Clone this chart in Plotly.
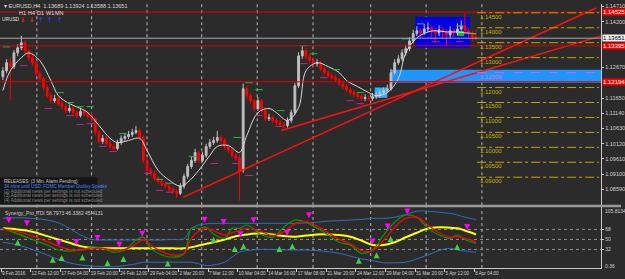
import plotly.graph_objects as go

# ---------------- price data (8h bars) ----------------
bar_open = [1.1236,1.1256,1.1283,1.1270,1.1316,1.1333,1.1350,1.1323,1.1300,1.1283,
            1.1246,1.1230,1.1200,1.1173,1.1156,1.1163,1.1146,1.1136,1.1123,1.1130,
            1.1116,1.1106,1.1120,1.1113,1.1103,1.1096,1.1050,1.1020,1.1030,1.1013,
            1.1003,1.0996,1.1016,1.1030,1.1036,1.1043,1.1050,1.1056,1.1033,1.0956,
            1.0923,1.0913,1.0896,1.0886,1.0876,1.0870,1.0860,1.0853,1.0846,1.0870,
            1.0903,1.0936,1.0956,1.0983,1.0956,1.0973,1.1003,1.1016,1.1023,1.1033,
            1.1023,1.1003,1.0990,1.0973,1.0963,1.0923,1.1196,1.1173,1.1156,1.1130,
            1.1156,1.1123,1.1096,1.1100,1.1090,1.1083,1.1076,1.1073,1.1090,1.1116,
            1.1206,1.1306,1.1323,1.1303,1.1290,1.1280,1.1283,1.1263,1.1250,1.1240,
            1.1233,1.1226,1.1213,1.1203,1.1193,1.1183,1.1176,1.1170,1.1163,1.1166,
            1.1163,1.1170,1.1173,1.1183,1.1190,1.1196,1.1250,1.1283,1.1296,1.1316,
            1.1330,1.1356,1.1380,1.1390,1.1383,1.1396,1.1400,1.1390,1.1383,1.1393,
            1.1386,1.1376,1.1390,1.1383,1.1396,1.1406,1.1390,1.1380,1.1369]
bar_close = [1.1256,1.1283,1.1270,1.1316,1.1333,1.1350,1.1323,1.1300,1.1283,1.1246,
             1.1230,1.1200,1.1173,1.1156,1.1163,1.1146,1.1136,1.1123,1.1130,1.1116,
             1.1106,1.1120,1.1113,1.1103,1.1096,1.1050,1.1020,1.1030,1.1013,1.1003,
             1.0996,1.1016,1.1030,1.1036,1.1043,1.1050,1.1056,1.1033,1.0956,1.0923,
             1.0913,1.0896,1.0886,1.0876,1.0870,1.0860,1.0853,1.0846,1.0870,1.0903,
             1.0936,1.0956,1.0983,1.0956,1.0973,1.1003,1.1016,1.1023,1.1033,1.1023,
             1.1003,1.0990,1.0973,1.0963,1.0923,1.1196,1.1173,1.1156,1.1130,1.1156,
             1.1123,1.1096,1.1100,1.1090,1.1083,1.1076,1.1073,1.1090,1.1116,1.1206,
             1.1306,1.1323,1.1303,1.1290,1.1280,1.1283,1.1263,1.1250,1.1240,1.1233,
             1.1226,1.1213,1.1203,1.1193,1.1183,1.1176,1.1170,1.1163,1.1166,1.1163,
             1.1170,1.1173,1.1183,1.1190,1.1196,1.1250,1.1283,1.1296,1.1316,1.1330,
             1.1356,1.1380,1.1390,1.1383,1.1396,1.1400,1.1390,1.1383,1.1393,1.1386,
             1.1376,1.1390,1.1383,1.1396,1.1406,1.1390,1.1380,1.1369,1.13651]
bar_high = [1.1268,1.1295,1.1300,1.1325,1.1345,1.1373,1.1358,1.1330,1.1312,1.1290,
            1.1258,1.1236,1.1210,1.1182,1.1176,1.1170,1.1156,1.1146,1.1142,1.1138,
            1.1125,1.1133,1.1130,1.1120,1.1118,1.1100,1.1058,1.1042,1.1038,1.1022,
            1.1012,1.1026,1.1040,1.1048,1.1055,1.1062,1.1072,1.1063,1.1040,1.0965,
            1.0932,1.0922,1.0905,1.0895,1.0886,1.0878,1.0868,1.0860,1.0880,1.0912,
            1.0945,1.0968,1.0995,1.0990,1.0985,1.1012,1.1028,1.1035,1.1055,1.1040,
            1.1030,1.1010,1.0998,1.0980,1.0975,1.1213,1.1205,1.1182,1.1162,1.1168,
            1.1162,1.1130,1.1112,1.1108,1.1098,1.1092,1.1085,1.1100,1.1126,1.1215,
            1.1318,1.1340,1.1332,1.1312,1.1298,1.1295,1.1290,1.1270,1.1258,1.1250,
            1.1243,1.1232,1.1222,1.1212,1.1200,1.1192,1.1185,1.1178,1.1178,1.1175,
            1.1182,1.1185,1.1193,1.1200,1.1210,1.1262,1.1295,1.1308,1.1328,1.1343,
            1.1368,1.1393,1.1405,1.1398,1.1412,1.1418,1.1405,1.1400,1.1408,1.1402,
            1.1395,1.1405,1.1398,1.1415,1.1425,1.1450,1.1400,1.1390,1.13924]
bar_low = [1.1225,1.1248,1.1160,1.1262,1.1305,1.1325,1.1315,1.1290,1.1272,1.1238,
           1.1220,1.1190,1.1165,1.1146,1.1148,1.1138,1.1126,1.1115,1.1116,1.1108,
           1.1098,1.1100,1.1105,1.1095,1.1088,1.1040,1.1012,1.1012,1.1005,1.0995,
           1.0986,1.0990,1.1008,1.1022,1.1028,1.1035,1.1044,1.1025,1.0948,1.0915,
           1.0905,1.0888,1.0878,1.0868,1.0862,1.0852,1.0845,1.0830,1.0840,1.0862,
           1.0895,1.0928,1.0948,1.0948,1.0950,1.0965,1.0995,1.1008,1.1015,1.1012,
           1.0995,1.0982,1.0965,1.0955,1.0822,1.0915,1.1160,1.1145,1.1120,1.1122,
           1.1115,1.1088,1.1088,1.1080,1.1075,1.1068,1.1063,1.1066,1.1082,1.1108,
           1.1198,1.1296,1.1295,1.1280,1.1270,1.1270,1.1255,1.1242,1.1232,1.1225,
           1.1218,1.1205,1.1195,1.1185,1.1175,1.1168,1.1160,1.1155,1.1155,1.1155,
           1.1156,1.1162,1.1165,1.1175,1.1182,1.1190,1.1243,1.1276,1.1288,1.1306,
           1.1322,1.1348,1.1372,1.1368,1.1376,1.1385,1.1362,1.1350,1.1372,1.1365,
           1.1335,1.1365,1.1368,1.1375,1.1388,1.1378,1.1368,1.1355,1.13588]
bar_idx = list(range(len(bar_close)))

# moving average (white line)
ma_i = [0,2,5,7,10,13,15,18,21,23,26,29,31,34,37,39,42,45,48,50,53,56,58,61,64,
        66,69,72,74,77,80,82,85,88,91,93,96,99,101,104,107,109,112,115,117,120,123,125,128]
ma_p = [1.1190,1.1256,1.1300,1.1316,1.1290,1.1223,1.1173,1.1146,1.1130,1.1116,
        1.1073,1.1030,1.1016,1.1023,1.1030,1.0990,1.0923,1.0890,1.0870,1.0883,
        1.0923,1.0973,1.1003,1.1006,1.0983,1.1040,1.1116,1.1130,1.1116,1.1090,
        1.1133,1.1256,1.1283,1.1270,1.1250,1.1223,1.1203,1.1183,1.1173,1.1183,
        1.1230,1.1316,1.1366,1.1386,1.1390,1.1386,1.1386,1.1383,1.1380]

# small green (resistance) and magenta (support) marks
grn_i = [0,14.5,17.2,19.9,22.6,31.5,41.4,44.1,50.3,62.4,65.6,68.3,74.2,80.4,83.1,89.2,95.7,108,112,122.6,126]
grn_p = [1.1336,1.1183,1.1150,1.1136,1.1136,1.1046,1.0893,1.0880,1.0970,1.1033,1.1216,
         1.1193,1.1123,1.1340,1.1313,1.1260,1.1183,1.1363,1.1413,1.1406,1.1380]
mag_i = [4.6,11.3,17.2,19.9,22.6,26.1,28.8,38.2,41.4,44.1,56.2,62.1,65.6,68.3,73.7,80.4,85.8,93,95.7,116.1,122.6]
mag_p = [1.1273,1.1130,1.1106,1.1076,1.1080,1.1003,1.0986,1.0913,1.0856,1.0850,1.0946,
         1.0946,1.0906,1.1106,1.1070,1.1280,1.1233,1.1156,1.1146,1.1353,1.1353]

# trend lines
trend_a_i = [75.3, 161.85]
trend_a_p = [1.10562, 1.13728]
trend_b_i = [48.7, 160.5]
trend_b_p = [1.08328, 1.14662]

red_levels = [1.14525, 1.13395, 1.12194]
red_labels = ["1.14525", "1.13395", "1.12194"]
cur_price = 1.13651
round_levels = [1.145, 1.140, 1.135, 1.130, 1.120, 1.115, 1.110, 1.105, 1.100, 1.095, 1.090]
magenta_level = 1.125
price_ticks = [1.14710, 1.14200, 1.12670, 1.11650, 1.11140, 1.10630, 1.10120, 1.09610, 1.09100, 1.08590]

grid_i = [9.2, 24, 39, 53.8, 68.8, 83.9, 99.5, 114.5, 129.6]
date_i = [-0.5, 7.5, 15.5, 23.5, 31.5, 39.5, 47.5, 55.5, 63.5, 71.5, 79.5, 87.5, 95.5, 103.5, 111.5, 119.5, 127.5]
date_labels = ["9 Feb 2016", "12 Feb 12:00", "17 Feb 04:00", "19 Feb 20:00", "24 Feb 12:00",
               "29 Feb 04:00", "2 Mar 20:00", "7 Mar 12:00", "10 Mar 04:00", "14 Mar 16:00",
               "17 Mar 08:00", "21 Mar 20:00", "24 Mar 12:00", "29 Mar 04:00", "31 Mar 20:00",
               "5 Apr 12:00", "8 Apr 04:00"]

# ---------------- TDI sub-window ----------------
tdi_i = [0,4,8,12,15,18,21,24,27,30,33,36,38,40,43,46,49,51,53,55,57,60,62,64,66,
         70,73,76,79,82,85,88,91,94,97,100,103,106,109,112,115,118,121,123,125,128]
tdi_green = [70,60,50,40,31,29,31,36,34,27,31,49,54,34,22,18,24,70,70,72,60,52,70,
             70,76,58,54,72,85,81,70,58,45,40,25,31,58,81,94,90,70,58,52,58,50,43]
tdi_red = [68,64,56,46,38,32,31,33,34,31,32,42,50,40,28,22,25,52,65,70,66,58,62,
           66,70,64,57,64,78,82,74,62,50,42,30,30,48,72,88,90,76,62,54,55,52,46]
tdi_yel = [70,68,64,56,50,44,38,35,34,34,34,34,34,34,34,34,34,36,39,42,45,50,54,
           57,59,61,59,56,55,57,59,59,58,55,48,40,40,45,54,62,70,72,71,70,66,59]
tdi_up = [88,89,88,85,80,70,58,50,49,49,49,49,49,49,49,50,51,70,76,78,79,79,79,
          79,79,79,79,79,79,80,81,83,84,85,86,88,88,90,95,101,101,99,97,94,90,86]
tdi_lo = [45,40,32,22,14,8,4,2,1,1,3,6,9,9,9,9,9,9,6,3,4,9,18,27,30,32,32,31,31,31,
          30,28,25,20,15,12,8,8,9,15,22,30,34,31,29,27]

arr_dn_i = [1.6,6.5,15.1,19.9,25.6,31.5,37.7,54.6,59.7,64.3,67.8,76.9,82.8,100,104.1,109.4,125.6]
arr_dn_v = [79,74,38,40,47,35,55,80,76,54,79,56,88,41,68,95,67]
arr_up_i = [4,13.5,15.9,21.5,28.3,32.6,44.6,57,62.7,65.1,74.8,78.3,96.3,101.1,104.9,122.9]
arr_up_v = [50,19,22,23,13,20,12,55,38,43,38,43,17,27,56,42]
tdi_levels = [68, 50, 32]

BG = "#2b2b2b"
FG = "#d0d0d0"
FONT = "DejaVu Sans"
NARROW = "Liberation Sans"
COND = "Liberation Sans Narrow, Liberation Sans"
XR = [-0.78, 161.85]
XD = [0, 605/625]
H = 279.0

def py(v):
    return 1 - v / H

fig = go.Figure()

# main candles
fig.add_trace(go.Candlestick(
    x=bar_idx, open=bar_open, high=bar_high, low=bar_low, close=bar_close,
    increasing=dict(line=dict(color="#c0c0c0", width=1), fillcolor="#c0c0c0"),
    decreasing=dict(line=dict(color="#ff0000", width=1), fillcolor="#ff0000"),
    whiskerwidth=0, xaxis="x", yaxis="y", hoverinfo="skip"))

fig.add_trace(go.Scatter(x=ma_i, y=ma_p, mode="lines", line=dict(color="#d8d8d8", width=1, shape="spline"),
                         xaxis="x", yaxis="y", hoverinfo="skip"))

# green / magenta marks
gx, gy = [], []
for i, p in zip(grn_i, grn_p):
    gx += [i, i + 2, None]; gy += [p, p, None]
fig.add_trace(go.Scatter(x=gx, y=gy, mode="lines", line=dict(color="#20c040", width=1),
                         xaxis="x", yaxis="y", hoverinfo="skip"))
mx, my = [], []
for i, p in zip(mag_i, mag_p):
    mx += [i, i + 2, None]; my += [p, p, None]
fig.add_trace(go.Scatter(x=mx, y=my, mode="lines", line=dict(color="#c02890", width=1),
                         xaxis="x", yaxis="y", hoverinfo="skip"))

# trend lines
for ti, tp in ((trend_a_i, trend_a_p), (trend_b_i, trend_b_p)):
    fig.add_trace(go.Scatter(x=ti, y=tp, mode="lines", line=dict(color="#ff1010", width=1.5),
                             xaxis="x", yaxis="y", hoverinfo="skip"))

# TDI lines
fig.add_trace(go.Scatter(x=tdi_i, y=tdi_up, mode="lines", line=dict(color="#2f6fc0", width=1, shape="spline"),
                         xaxis="x2", yaxis="y2", hoverinfo="skip"))
fig.add_trace(go.Scatter(x=tdi_i, y=tdi_lo, mode="lines", line=dict(color="#2f6fc0", width=1, shape="spline"),
                         xaxis="x2", yaxis="y2", hoverinfo="skip"))
fig.add_trace(go.Scatter(x=tdi_i, y=tdi_yel, mode="lines", line=dict(color="#ffff00", width=2, shape="spline"),
                         xaxis="x2", yaxis="y2", hoverinfo="skip"))
fig.add_trace(go.Scatter(x=tdi_i, y=tdi_green, mode="lines", line=dict(color="#00a000", width=1.2, shape="spline"),
                         xaxis="x2", yaxis="y2", hoverinfo="skip"))
fig.add_trace(go.Scatter(x=tdi_i, y=tdi_red, mode="lines", line=dict(color="#ff0000", width=1.3, shape="spline"),
                         xaxis="x2", yaxis="y2", hoverinfo="skip"))
fig.add_trace(go.Scatter(x=arr_dn_i, y=arr_dn_v, mode="markers",
                         marker=dict(symbol="arrow-down", size=6, color="#ff00ff"),
                         xaxis="x2", yaxis="y2", hoverinfo="skip"))
fig.add_trace(go.Scatter(x=arr_up_i, y=arr_up_v, mode="markers",
                         marker=dict(symbol="arrow-up", size=6, color="#40d040"),
                         xaxis="x2", yaxis="y2", hoverinfo="skip"))

shapes = []
ann = []

# blue zones
shapes.append(dict(type="rect", xref="x", yref="y", x0=104.9, x1=XR[1], y0=1.12162, y1=1.12595,
                   fillcolor="#1e96ff", line=dict(width=0), layer="below"))
shapes.append(dict(type="rect", xref="x", yref="y", x0=111.6, x1=126.4, y0=1.13328, y1=1.14362,
                   fillcolor="#0000e8", line=dict(width=0), layer="below"))
shapes.append(dict(type="rect", xref="x", yref="y", x0=122.9, x1=124.8, y0=1.13728, y1=1.13895,
                   fillcolor="#10c010", line=dict(width=0), layer="below"))
shapes.append(dict(type="rect", xref="x", yref="y", x0=100.6, x1=104, y0=1.1166, y1=1.1200,
                   fillcolor="#30b0ff", line=dict(width=0), layer="below"))

# grid
for g in grid_i:
    shapes.append(dict(type="line", xref="x", yref="paper", x0=g, x1=g, y0=py(205), y1=py(3),
                       line=dict(color="#b8b8b8", width=1, dash="dot"), layer="below"))
    shapes.append(dict(type="line", xref="x2", yref="paper", x0=g, x1=g, y0=py(268), y1=py(207),
                       line=dict(color="#b8b8b8", width=1, dash="dot"), layer="below"))

# horizontal levels
shapes.append(dict(type="line", xref="x", yref="y", x0=XR[0], x1=XR[1], y0=cur_price, y1=cur_price,
                   line=dict(color="#a8a8a8", width=1)))
for lv, lb in zip(red_levels, red_labels):
    shapes.append(dict(type="line", xref="x", yref="y", x0=XR[0], x1=XR[1], y0=lv, y1=lv,
                       line=dict(color="#e00000", width=1)))
    ann.append(dict(x=XD[1] + 0.002, y=lv, xref="paper", yref="y", text=lb, showarrow=False,
                    xanchor="left", yanchor="middle", bgcolor="#ff0000",
                    font=dict(family=NARROW, size=6, color="#ffffff"), borderpad=0))
ann.append(dict(x=XD[1] + 0.002, y=cur_price, xref="paper", yref="y", text="1.13651", showarrow=False,
                xanchor="left", yanchor="middle", bgcolor="#f0f0f0",
                font=dict(family=NARROW, size=6, color="#000000"), borderpad=0))

for lv in round_levels:
    shapes.append(dict(type="line", xref="x", yref="y", x0=128.3, x1=161.3, y0=lv, y1=lv,
                       line=dict(color="#c8a400", width=1, dash="dashdot")))
    ann.append(dict(x=128.6, y=lv, xref="x", yref="y", text=f"{lv:.5f}", showarrow=False,
                    xanchor="left", yanchor="top", yshift=1,
                    font=dict(family=NARROW, size=6, color="#c8b000")))
shapes.append(dict(type="line", xref="x", yref="y", x0=128.3, x1=161.3, y0=magenta_level, y1=magenta_level,
                   line=dict(color="#e060e0", width=1, dash="dash")))
ann.append(dict(x=128.6, y=magenta_level, xref="x", yref="y", text=f"{magenta_level:.5f}", showarrow=False,
                xanchor="left", yanchor="top", yshift=1, font=dict(family=NARROW, size=6, color="#e070e0")))

# tdi levels
for lv in tdi_levels:
    shapes.append(dict(type="line", xref="x2", yref="y2", x0=XR[0], x1=XR[1], y0=lv, y1=lv,
                       line=dict(color="#909090", width=1, dash="dot"), layer="below"))

# window separator
shapes.append(dict(type="rect", xref="paper", yref="paper", x0=0, x1=1, y0=py(207), y1=py(204.5),
                   fillcolor="#9a9a9a", line=dict(width=0)))

# info box
shapes.append(dict(type="rect", xref="paper", yref="paper", x0=0, x1=98/625, y0=py(204), y1=py(177),
                   fillcolor="#161616", line=dict(width=0)))
info_lines = ["RELEASES: (3 Min. Alarm Pending):",
              "34 mins until USD: FOMC Member Dudley Speaks",
              "(2) Additional news per settings is not scheduled",
              "(3) Additional news per settings is not scheduled",
              "(4) Additional news per settings is not scheduled"]
info_cols = ["#c8c8c8", "#3a8cff", "#8a8a8a", "#8a8a8a", "#8a8a8a"]
info_y = [181, 186, 191, 195.5, 200]
for t, c, yy in zip(info_lines, info_cols, info_y):
    ann.append(dict(x=2/625, y=py(yy), xref="paper", yref="paper", text=t, showarrow=False,
                    xanchor="left", yanchor="middle", font=dict(family=NARROW, size=4.6, color=c)))

# header texts
ann.append(dict(x=2/625, y=py(5.5), xref="paper", yref="paper",
                text="▾ EURUSD,H4  1.13689 1.13924 1.13588 1.13651", showarrow=False,
                xanchor="left", yanchor="middle", font=dict(family=NARROW, size=5.5, color="#d8d8d8")))
tfs = ["H1", "H4", "D1", "W1", "MN"]
tf_x = [22.5, 31.5, 40.5, 50, 59.5]
tf_arrow = ["↓", "↓", "↑", "↑", "↑"]
tf_col = ["#ff2020", "#ff2020", "#2040ff", "#2040ff", "#2040ff"]
for t, xx, a, c in zip(tfs, tf_x, tf_arrow, tf_col):
    ann.append(dict(x=xx/625, y=py(12), xref="paper", yref="paper", text=t, showarrow=False,
                    xanchor="center", yanchor="middle", font=dict(family=NARROW, size=5.5, color="#e0e0e0")))
    ann.append(dict(x=xx/625, y=py(19.5), xref="paper", yref="paper", text="<b>" + a + "</b>", showarrow=False,
                    xanchor="center", yanchor="middle", font=dict(family=FONT, size=6.5, color=c)))
ann.append(dict(x=0.3/625, y=py(19), xref="paper", yref="paper", text="URUSD", showarrow=False,
                xanchor="left", yanchor="middle", font=dict(family=NARROW, size=4.8, color="#e0e0e0")))

ann.append(dict(x=3/625, y=py(213), xref="paper", yref="paper",
                text="Synergy_Pro_TDI 58.7973 46.3382 45.4131", showarrow=False,
                xanchor="left", yanchor="middle", font=dict(family=NARROW, size=5, color="#d0d0d0")))
ann.append(dict(x=XD[1] + 0.003, y=py(210.5), xref="paper", yref="paper", text="105.8134", showarrow=False,
                xanchor="left", yanchor="middle", font=dict(family=NARROW, size=5, color=FG)))
ann.append(dict(x=XD[1] + 0.003, y=py(266), xref="paper", yref="paper", text="0.36", showarrow=False,
                xanchor="left", yanchor="middle", font=dict(family=NARROW, size=5, color=FG)))

fig.update_layout(
    width=625, height=279, margin=dict(l=0, r=0, t=0, b=0),
    paper_bgcolor=BG, plot_bgcolor=BG, showlegend=False,
    shapes=shapes, annotations=ann,
    xaxis=dict(domain=XD, range=XR, anchor="y", showticklabels=False, showgrid=False, zeroline=False,
               rangeslider=dict(visible=False), showline=False, fixedrange=True),
    yaxis=dict(domain=[py(205), py(3)], range=[1.08062, 1.14795], side="right", anchor="x",
               tickvals=price_ticks, ticktext=[f"{v:.5f}" for v in price_ticks],
               tickfont=dict(family=NARROW, size=5.5, color=FG), ticks="outside", ticklen=2,
               tickcolor=FG, showgrid=False, zeroline=False, showline=True, linecolor="#c8c8c8", linewidth=1),
    xaxis2=dict(domain=XD, range=XR, anchor="y2", matches="x", showgrid=False, zeroline=False,
                tickvals=date_i, ticktext=date_labels, ticklabelposition="outside right", tickangle=0,
                tickfont=dict(family=COND, size=4.6, color=FG), ticks="outside", ticklen=3, tickcolor=FG,
                showline=True, linecolor="#c8c8c8", linewidth=1),
    yaxis2=dict(domain=[py(268), py(207)], range=[-1.5, 108], side="right", anchor="x2",
                tickvals=tdi_levels, ticktext=[str(v) for v in tdi_levels],
                tickfont=dict(family=NARROW, size=5, color=FG), ticks="outside", ticklen=2, tickcolor=FG,
                showgrid=False, zeroline=False, showline=True, linecolor="#c8c8c8", linewidth=1),
)

fig.write_html("out.html")
